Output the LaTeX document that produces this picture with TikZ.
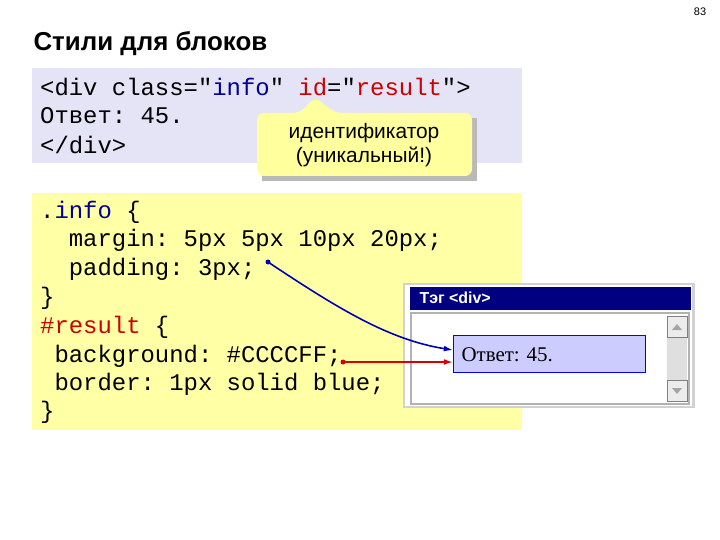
\documentclass[tikz,border=0pt]{standalone}
\usepackage{fontspec}
\setmainfont{Liberation Sans}
\newfontfamily\codefont{Liberation Mono}
\newfontfamily\serifw{Liberation Serif}
\usetikzlibrary{arrows.meta}
\definecolor{lav}{HTML}{E4E4F6}
\definecolor{lyel}{HTML}{FFFFA6}
\definecolor{cyel}{HTML}{FFFF9E}
\definecolor{navy}{HTML}{000080}
\definecolor{cblue}{HTML}{000099}
\definecolor{cred}{HTML}{CC0000}
\definecolor{res}{HTML}{CCCCFF}
\newcommand{\csp}{\phantom{x}}
\begin{document}
\begin{tikzpicture}[x=1bp,y=-1bp,
  code/.style={anchor=west,inner sep=0pt,font=\codefont\fontsize{24}{26}\selectfont},
  arr/.style={line width=1.6pt,-{Latex[length=9pt,width=6pt]}}]
\useasboundingbox (0,0) rectangle (720,540);
\fill[white] (0,0) rectangle (720,540);
\node[font=\fontsize{11}{13}\selectfont] (pg) at (700,12) {83};
\node[anchor=west,font=\bfseries\fontsize{26}{30}\selectfont] (title) at (30,44) {Стили для блоков};
% top box
\fill[lav] (32,68) rectangle (522,163);
\node[code] (l1) at (40,87) {<div\csp class="\textcolor{cblue}{info}"\csp\textcolor{cred}{id}="\textcolor{cred}{result}">};
\node[code] (l2) at (40,116) {Ответ:\csp 45.};
\node[code] (l3) at (40,145) {</div>};
% callout
\coordinate (tip) at (315,97);
\fill[gray!55] (262,118) rectangle (477,181);
\draw[draw=none,fill=cyel,rounded corners=7pt] (257,113) -- (300,113) -- (tip) -- (335,113) -- (472,113) -- (472,176) -- (257,176) -- cycle;
\node[align=center,font=\fontsize{21}{24}\selectfont] (cal) at (364,145) {идентификатор\\(уникальный!)};
% yellow box
\fill[lyel] (32,193) rectangle (522,430);
\node[code] (c1) at (40,212) {.\textcolor{cblue}{info}\csp\{};
\node[code] (c2) at (40,240) {\csp\csp margin:\csp 5px\csp 5px\csp 10px\csp 20px;};
\node[code] (c3) at (40,269) {\csp\csp padding:\csp 3px;};
\node[code] (c4) at (40,298) {\}};
\node[code] (c5) at (40,327) {\textcolor{cred}{\#result}\csp\{};
\node[code] (c6) at (40,356) {\csp background:\csp\#CCCCFF;};
\node[code] (c7) at (40,384) {\csp border:\csp 1px\csp solid\csp blue;};
\node[code] (c8) at (40,412) {\}};
% window
\fill[gray!35] (403,283) rectangle (695,408);
\fill[white] (405,285) rectangle (692,406);
\fill[navy] (410,287) rectangle (691,310);
\node[anchor=west,text=white,font=\bfseries\fontsize{16}{18}\selectfont] (wt) at (416,298) {Тэг <div>};
\fill[gray!60] (410,312) rectangle (690,405);
\fill[white] (412,314) rectangle (688,403);
\fill[gray!25] (667,316) rectangle (687,401);
\fill[gray!15] (667,316) rectangle (687,337);
\fill[gray!15] (667,380) rectangle (687,401);
\draw[gray] (667,316) rectangle (687,337) (667,380) rectangle (687,401);
\fill[gray!70] (672,330) -- (682,330) -- (677,324) -- cycle;
\fill[gray!70] (672,388) -- (682,388) -- (677,394) -- cycle;
\node[draw=blue,fill=res,minimum width=192bp,minimum height=37bp,inner sep=0pt] (rb) at (549,354) {};
\node[anchor=west,font=\serifw\fontsize{21}{23}\selectfont] (rt) at (458,355) {Ответ: 45.};
% arrows
\coordinate (a1) at (268,262);
\coordinate (a2) at (447,350);
\draw[arr,draw=blue!70!black] (a1) .. controls (340,310) and (390,340) .. (rb.west|-a2);
\fill[blue!70!black] (a1) circle (2.5);
\coordinate (b1) at (343,362);
\draw[arr,draw=red!85!black] (b1) -- (rb.west|-b1);
\fill[red!85!black] (b1) circle (2.5);
\end{tikzpicture}
\end{document}
